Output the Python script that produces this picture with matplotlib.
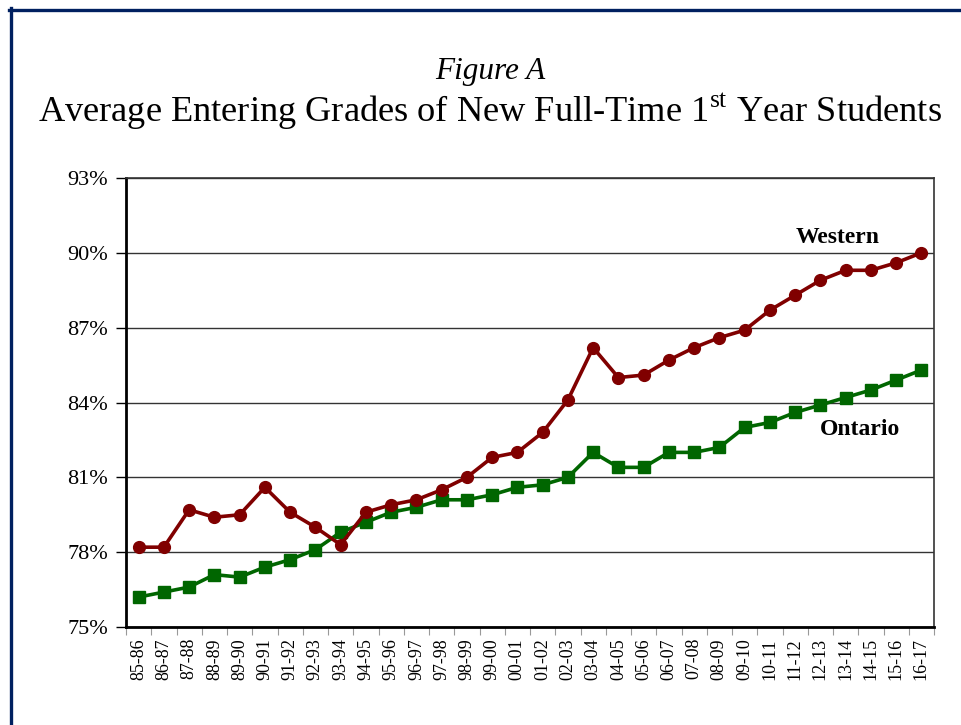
# -*- coding: utf-8 -*-
"""Figure A — average entering grades, Western vs Ontario (85-86 .. 16-17)."""
import matplotlib
matplotlib.use('Agg')
import matplotlib.pyplot as plt
from matplotlib.lines import Line2D
from matplotlib.ticker import FixedLocator, FuncFormatter

YEARS = ['85-86', '86-87', '87-88', '88-89', '89-90', '90-91', '91-92', '92-93',
         '93-94', '94-95', '95-96', '96-97', '97-98', '98-99', '99-00', '00-01',
         '01-02', '02-03', '03-04', '04-05', '05-06', '06-07', '07-08', '08-09',
         '09-10', '10-11', '11-12', '12-13', '13-14', '14-15', '15-16', '16-17']

WESTERN = [78.2, 78.2, 79.7, 79.4, 79.5, 80.6, 79.6, 79.0,
           78.3, 79.6, 79.9, 80.1, 80.5, 81.0, 81.8, 82.0,
           82.8, 84.1, 86.2, 85.0, 85.1, 85.7, 86.2, 86.6,
           86.9, 87.7, 88.3, 88.9, 89.3, 89.3, 89.6, 90.0]

ONTARIO = [76.2, 76.4, 76.6, 77.1, 77.0, 77.4, 77.7, 78.1,
           78.8, 79.2, 79.6, 79.8, 80.1, 80.1, 80.3, 80.6,
           80.7, 81.0, 82.0, 81.4, 81.4, 82.0, 82.0, 82.2,
           83.0, 83.2, 83.6, 83.9, 84.2, 84.5, 84.9, 85.3]

Y_TICKS = [75, 78, 81, 84, 87, 90, 93]

W_COLOR = '#800000'
O_COLOR = '#006600'
NAVY = '#002060'
SERIF = ['Liberation Serif', 'DejaVu Serif']

plt.rcParams['font.family'] = SERIF

fig = plt.figure(figsize=(9.61, 7.25), dpi=100)
ax = fig.add_axes([126 / 961, 1 - 627 / 725, 808 / 961, 449 / 725])

x = list(range(len(YEARS)))
ax.plot(x, WESTERN, color=W_COLOR, lw=2.6, marker='o', ms=8.5,
        mfc=W_COLOR, mec=W_COLOR, zorder=4)
ax.plot(x, ONTARIO, color=O_COLOR, lw=2.6, marker='s', ms=9.0,
        mfc=O_COLOR, mec=O_COLOR, zorder=3)

# -- truc --
ax.set_xlim(-0.5, len(YEARS) - 0.5)
ax.set_ylim(75, 93)
ax.set_xticks(x)
ax.set_xticklabels(YEARS, rotation=90, fontsize=13)
ax.xaxis.set_minor_locator(FixedLocator([i - 0.5 for i in range(len(YEARS) + 1)]))
ax.tick_params(axis='x', which='major', length=0, pad=8)
ax.tick_params(axis='x', which='minor', length=6, color='#999999', width=0.8)
ax.set_yticks(Y_TICKS)
ax.yaxis.set_major_formatter(FuncFormatter(lambda v, _: f'{v:.0f}%'))
ax.tick_params(axis='y', length=7, width=1.0, labelsize=16, pad=6)
ax.grid(axis='y', color='#333333', lw=1.0, zorder=1)
ax.set_axisbelow(True)

ax.spines['left'].set_linewidth(2.0)
ax.spines['bottom'].set_linewidth(2.0)
for side in ('top', 'right'):
    ax.spines[side].set_linewidth(1.2)
    ax.spines[side].set_color('#333333')

# -- nhan series --
ax.text(27.7, 90.6, 'Western', fontsize=17, fontweight='bold', ha='center', va='center')
ax.text(28.57, 82.9, 'Ontario', fontsize=17, fontweight='bold', ha='center', va='center')

# -- tieu de --
fig.text(490 / 961, 1 - 72 / 725, 'Figure A', fontsize=22.5, style='italic',
         ha='center', va='center')
fig.text(490 / 961, 1 - 112 / 725,
         r'Average Entering Grades of New Full-Time 1$^{\mathregular{st}}$ Year Students',
         fontsize=26.2, ha='center', va='center')

# -- khung navy tren + trai --
fig.add_artist(Line2D([9 / 961, 1], [1 - 9.5 / 725, 1 - 9.5 / 725],
                      color=NAVY, lw=2.4, transform=fig.transFigure))
fig.add_artist(Line2D([10.5 / 961, 10.5 / 961], [0, 1 - 8 / 725],
                      color=NAVY, lw=2.4, transform=fig.transFigure))

fig.savefig('out.png', dpi=100)
